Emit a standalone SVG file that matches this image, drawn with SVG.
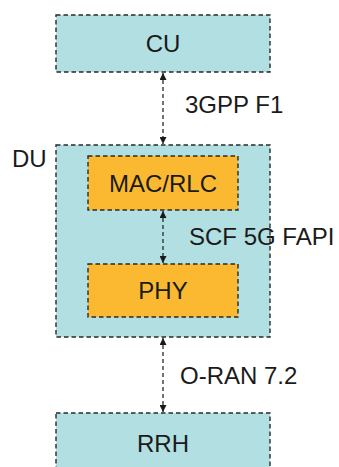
<svg xmlns="http://www.w3.org/2000/svg" width="339" height="467" viewBox="0 0 339 467">
<defs>
<style>
.box{stroke:#2a2a2a;stroke-width:1.4;stroke-dasharray:4.5 3}
.teal{fill:#b2dfe2}
.orange{fill:#fbb932}
.lbl{font-family:"Liberation Sans",Arial,sans-serif;font-size:24px;fill:#1a1a1a}
.mid{text-anchor:middle}
.conn{stroke:#2a2a2a;stroke-width:1.3;stroke-dasharray:4 3;fill:none}
</style>
<marker id="ah" viewBox="0 0 10 10" refX="10" refY="5" markerWidth="7" markerHeight="7" markerUnits="userSpaceOnUse" orient="auto-start-reverse">
<path d="M0,0 L10,5 L0,10 Z" fill="#1a1a1a"/>
</marker>
</defs>
<rect width="339" height="467" fill="#ffffff"/>
<g id="CU">
<rect class="box teal" x="56" y="15" width="214" height="57"/>
<text class="lbl mid" x="163" y="52">CU</text>
</g>
<g id="DU">
<rect class="box teal" x="56" y="145" width="214" height="192"/>
<text class="lbl" x="12" y="167">DU</text>
</g>
<g id="MAC_RLC">
<rect class="box orange" x="88" y="156" width="150" height="54"/>
<text class="lbl mid" x="163" y="192">MAC/RLC</text>
</g>
<g id="PHY">
<rect class="box orange" x="88" y="264" width="150" height="53"/>
<text class="lbl mid" x="163" y="299">PHY</text>
</g>
<g id="RRH">
<rect class="box teal" x="56" y="413" width="214" height="70"/>
<text class="lbl mid" x="163" y="452">RRH</text>
</g>
<g id="connectors">
<line class="conn" x1="163" y1="73" x2="163" y2="144" marker-start="url(#ah)" marker-end="url(#ah)"/>
<line class="conn" x1="163" y1="211" x2="163" y2="263" marker-start="url(#ah)" marker-end="url(#ah)"/>
<line class="conn" x1="163" y1="338" x2="163" y2="412" marker-start="url(#ah)" marker-end="url(#ah)"/>
<text class="lbl" x="185" y="113">3GPP F1</text>
<text class="lbl" x="189" y="245">SCF 5G FAPI</text>
<text class="lbl" x="180" y="384">O-RAN 7.2</text>
</g>
</svg>
